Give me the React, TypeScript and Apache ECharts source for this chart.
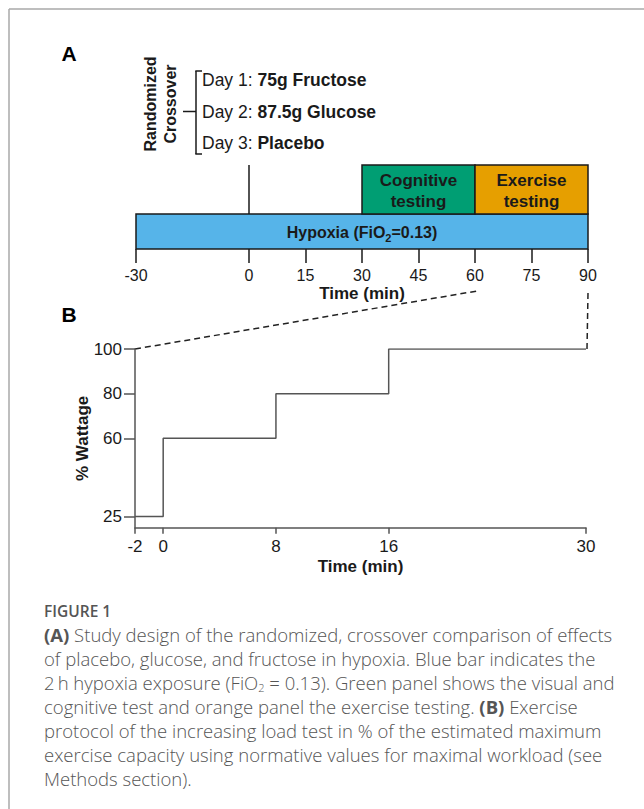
import React, { useEffect, useRef } from "react";
import * as echarts from "echarts";

// ---- Panel A data ----
const timeTicksA = [-30, 0, 15, 30, 45, 60, 75, 90];
const phaseNames = ["Hypoxia (FiO{s|2}=0.13)", "Cognitive\ntesting", "Exercise\ntesting"];
const phaseStart = [-30, 30, 60];
const phaseEnd = [90, 60, 90];
const phaseRow = [0, 1, 1];
const dosingTime = [0];
const dayLabels = ["Day 1: ", "Day 2: ", "Day 3: "];
const treatments = ["75g Fructose", "87.5g Glucose", "Placebo"];

// ---- Panel B data ----
const exTime = [-2, 0, 8, 16, 30];
const exLoad = [25, 60, 80, 100, 100];
const timeTicksB = [-2, 0, 8, 16, 30];
const loadTicks = [25, 60, 80, 100];

// ---- Caption ----
const captionTitle = "FIGURE 1";
const captionLines = [
  "{b|(A)} Study design of the randomized, crossover comparison of effects",
  "of placebo, glucose, and fructose in hypoxia. Blue bar indicates the",
  "2\u2009h hypoxia exposure (FiO{s|2} = 0.13). Green panel shows the visual and",
  "cognitive test and orange panel the exercise testing. {b|(B)} Exercise",
  "protocol of the increasing load test in % of the estimated maximum",
  "exercise capacity using normative values for maximal workload (see",
  "Methods section).",
];

// ---- styles ----
const phaseColors = ["#56B4E9", "#009E73", "#E69F00"];
const rowBounds = [
  [0, 1],
  [1, 2.4],
];
const FONT = "'Liberation Sans', Arial, sans-serif";
const CAP_FONT = "'Open Sans', 'Noto Sans', sans-serif";
const INK = "#1a1a1a";
const CAP_SIZE = 18.5;

export default function App() {
  const ref = useRef<HTMLDivElement>(null);
  useEffect(() => {
    if (!ref.current) return;
    const chart = echarts.init(ref.current, undefined, { renderer: "svg" });
    const option: any = {
      animation: false,
      grid: [
        { left: 136, right: 56, top: 165, height: 84 },
        { left: 135, right: 58, top: 349, height: 178.7 },
      ],
      xAxis: [
        {
          gridIndex: 0,
          type: "value",
          min: -30,
          max: 90,
          axisLine: { show: false },
          splitLine: { show: false },
          axisTick: {
            show: true,
            customValues: timeTicksA,
            length: 14,
            lineStyle: { color: INK, width: 1.5 },
          },
          axisLabel: {
            customValues: timeTicksA,
            fontSize: 16,
            fontFamily: FONT,
            color: INK,
            margin: 18,
          },
          name: "Time (min)",
          nameLocation: "middle",
          nameGap: 36,
          nameMoveOverlap: false,
          nameTextStyle: { fontSize: 17, fontWeight: "bold", fontFamily: FONT, color: INK },
        },
        {
          gridIndex: 1,
          type: "value",
          min: -2,
          max: 30,
          axisLine: { show: true, onZero: false, lineStyle: { color: "#555", width: 1.5 } },
          splitLine: { show: false },
          axisTick: {
            show: true,
            customValues: timeTicksB,
            length: 6,
            lineStyle: { color: "#555", width: 1.5 },
          },
          axisLabel: {
            customValues: timeTicksB,
            fontSize: 17,
            fontFamily: FONT,
            color: INK,
            margin: 10,
          },
          name: "Time (min)",
          nameLocation: "middle",
          nameGap: 30,
          nameMoveOverlap: false,
          nameTextStyle: { fontSize: 17, fontWeight: "bold", fontFamily: FONT, color: INK },
        },
      ],
      yAxis: [
        { gridIndex: 0, type: "value", min: 0, max: 2.4, show: false },
        {
          gridIndex: 1,
          type: "value",
          min: 20,
          max: 100,
          axisLine: { show: true, onZero: false, lineStyle: { color: "#555", width: 1.5 } },
          splitLine: { show: false },
          axisTick: {
            show: true,
            customValues: loadTicks,
            length: 11,
            lineStyle: { color: "#555", width: 1.5 },
          },
          axisLabel: {
            customValues: loadTicks,
            fontSize: 17,
            fontFamily: FONT,
            color: INK,
            margin: 13,
          },
          name: "% Wattage",
          nameLocation: "middle",
          nameGap: 44,
          nameMoveOverlap: false,
          nameRotate: 90,
          nameTextStyle: { fontSize: 17, fontWeight: "bold", fontFamily: FONT, color: INK },
        },
      ],
      series: [
        {
          type: "custom",
          xAxisIndex: 0,
          yAxisIndex: 0,
          clip: false,
          data: phaseStart.map((s, i) => [s, phaseEnd[i], phaseRow[i]]),
          renderItem: (params: any, api: any) => {
            const i = params.dataIndex;
            const [lo, hi] = rowBounds[api.value(2)];
            const p0 = api.coord([api.value(0), lo]);
            const p1 = api.coord([api.value(1), hi]);
            return {
              type: "group",
              children: [
                {
                  type: "rect",
                  shape: { x: p0[0], y: p1[1], width: p1[0] - p0[0], height: p0[1] - p1[1] },
                  style: { fill: phaseColors[i], stroke: INK, lineWidth: 1.5 },
                },
                {
                  type: "text",
                  x: (p0[0] + p1[0]) / 2,
                  y: (p0[1] + p1[1]) / 2 + 1,
                  style: {
                    text: phaseNames[i],
                    fontSize: i === 0 ? 16 : 17,
                    fontWeight: "bold",
                    fontFamily: FONT,
                    fill: INK,
                    align: "center",
                    verticalAlign: "middle",
                    lineHeight: 21,
                    rich: {
                      s: {
                        fontSize: 11,
                        fontWeight: "bold",
                        fontFamily: FONT,
                        fill: INK,
                        lineHeight: 12,
                        verticalAlign: "bottom",
                      },
                    },
                  },
                },
              ],
            };
          },
        },
        {
          type: "custom",
          xAxisIndex: 0,
          yAxisIndex: 0,
          clip: false,
          data: dosingTime.map((t) => [t]),
          renderItem: (params: any, api: any) => {
            const a = api.coord([api.value(0), rowBounds[1][0]]);
            const b = api.coord([api.value(0), rowBounds[1][1]]);
            return {
              type: "line",
              shape: { x1: a[0], y1: a[1], x2: b[0], y2: b[1] },
              style: { stroke: INK, lineWidth: 1.5 },
            };
          },
        },
        {
          type: "line",
          xAxisIndex: 1,
          yAxisIndex: 1,
          step: "end",
          symbol: "none",
          data: exTime.map((t, i) => [t, exLoad[i]]),
          lineStyle: { color: "#555", width: 1.5 },
        },
      ],
    };
    chart.setOption(option);

    const bTop = chart.convertToPixel({ gridIndex: 1 }, [-2, 100]) as number[];
    const bEnd = chart.convertToPixel({ gridIndex: 1 }, [30, 100]) as number[];
    const a60 = chart.convertToPixel({ gridIndex: 0 }, [60, 0]) as number[];
    const a90 = chart.convertToPixel({ gridIndex: 0 }, [90, 0]) as number[];

    const dash = { stroke: "#222", lineWidth: 1.5, lineDash: [6, 4] };
    const graphic: any[] = [
      { type: "line", shape: { x1: 9, y1: 9, x2: 644, y2: 9 }, style: { stroke: "#a8a8a8", lineWidth: 1.5 } },
      { type: "line", shape: { x1: 9, y1: 9, x2: 9, y2: 809 }, style: { stroke: "#a8a8a8", lineWidth: 1.5 } },
      {
        type: "text",
        x: 69,
        y: 53,
        style: { text: "A", font: `bold 21px ${FONT}`, fill: "#000", align: "center", verticalAlign: "middle" },
      },
      {
        type: "text",
        x: 69,
        y: 314,
        style: { text: "B", font: `bold 21px ${FONT}`, fill: "#000", align: "center", verticalAlign: "middle" },
      },
      {
        type: "text",
        x: 160,
        y: 104,
        rotation: Math.PI / 2,
        style: {
          text: "Randomized\nCrossover",
          fontSize: 16,
          fontWeight: "bold",
          fontFamily: FONT,
          fill: INK,
          align: "center",
          verticalAlign: "middle",
          lineHeight: 20,
        },
      },
      { type: "line", shape: { x1: 196, y1: 71, x2: 196, y2: 154 }, style: { stroke: INK, lineWidth: 1.5 } },
      { type: "line", shape: { x1: 195.3, y1: 71, x2: 202, y2: 71 }, style: { stroke: INK, lineWidth: 1.5 } },
      { type: "line", shape: { x1: 195.3, y1: 154, x2: 202, y2: 154 }, style: { stroke: INK, lineWidth: 1.5 } },
      { type: "line", shape: { x1: 183, y1: 111.5, x2: 196, y2: 111.5 }, style: { stroke: INK, lineWidth: 1.5 } },
      ...dayLabels.map((d, i) => ({
        type: "text",
        x: 202,
        y: 80 + i * 31.6,
        style: {
          text: `{r|${d}}{b|${treatments[i]}}`,
          align: "left",
          verticalAlign: "middle",
          rich: {
            r: { fontSize: 17.5, fontFamily: FONT, fill: INK },
            b: { fontSize: 17.5, fontFamily: FONT, fontWeight: "bold", fill: INK },
          },
        },
      })),
      { type: "line", shape: { x1: bTop[0], y1: bTop[1], x2: a60[0] + 2, y2: a60[1] + 42 }, style: dash },
      { type: "line", shape: { x1: a90[0], y1: a90[1] + 44, x2: bEnd[0] + 1, y2: bEnd[1] }, style: dash },
      {
        type: "text",
        x: 44,
        y: 611,
        style: {
          text: captionTitle,
          fontSize: 15.5,
          fontWeight: 600,
          fontFamily: CAP_FONT,
          fill: "#555",
          align: "left",
          verticalAlign: "middle",
        },
      },
      ...captionLines.map((line, i) => ({
        type: "text",
        x: 44,
        y: 634 + i * 24,
        style: {
          text: line,
          fontSize: CAP_SIZE,
          fontWeight: 300,
          fontFamily: CAP_FONT,
          fill: "#555",
          align: "left",
          verticalAlign: "middle",
          lineHeight: 22,
          rich: {
            b: { fontSize: CAP_SIZE, fontWeight: "bold", fontFamily: CAP_FONT, fill: "#555", lineHeight: 22 },
            s: { fontSize: 11, fontWeight: 300, fontFamily: CAP_FONT, fill: "#555", lineHeight: 13, verticalAlign: "bottom" },
          },
        },
      })),
    ];
    chart.setOption({ graphic });

    return () => chart.dispose();
  }, []);
  return (
    <div
      ref={ref}
      style={{ position: "fixed", left: 0, top: 0, width: 644, height: 809, background: "#fff" }}
    />
  );
}
